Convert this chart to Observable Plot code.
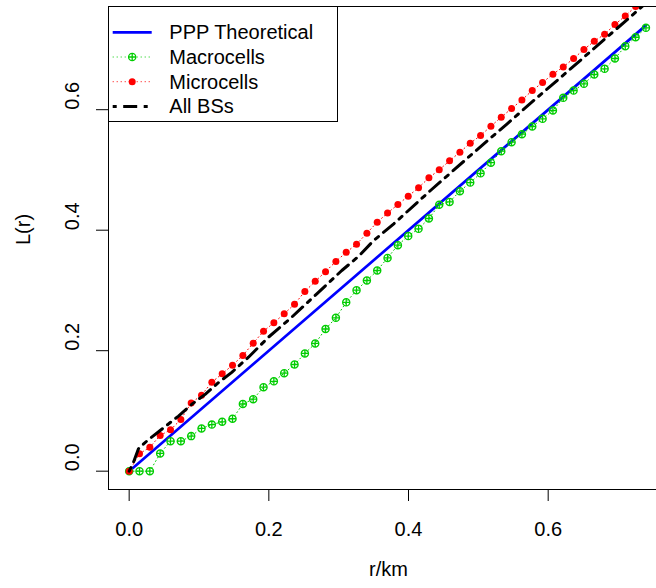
<!DOCTYPE html>
<html><head><meta charset="utf-8">
<script src="https://cdn.jsdelivr.net/npm/d3@7"></script>
<script src="https://cdn.jsdelivr.net/npm/@observablehq/plot@0.6"></script>
<style>
html,body{margin:0;padding:0;background:#fff;overflow:hidden;width:656px;height:588px}
#chart{position:relative;width:668px;height:588px}
#chart svg{max-width:none !important;display:block}
</style></head><body><div id="chart"></div>
<script>
// ---- data ----
const r = [0.0000,0.0148,0.0296,0.0444,0.0592,0.0740,0.0888,0.1036,0.1184,0.1332,
  0.1480,0.1628,0.1776,0.1924,0.2072,0.2220,0.2368,0.2516,0.2664,0.2812,
  0.2960,0.3108,0.3256,0.3404,0.3552,0.3700,0.3848,0.3996,0.4144,0.4292,
  0.4440,0.4588,0.4736,0.4884,0.5032,0.5180,0.5328,0.5476,0.5624,0.5772,
  0.5920,0.6068,0.6216,0.6364,0.6512,0.6660,0.6808,0.6956,0.7104,0.7252,0.7400];
const macro = [0,0,0,0.0294,0.0498,0.0498,0.0582,0.0709,0.0773,0.0820,
  0.0870,0.1115,0.1195,0.1394,0.1492,0.1627,0.1771,0.1954,0.2120,0.2360,
  0.2546,0.2803,0.3005,0.3165,0.3331,0.3540,0.3752,0.3903,0.4023,0.4194,
  0.4422,0.4470,0.4648,0.4790,0.4944,0.5121,0.5311,0.5461,0.5593,0.5721,
  0.5849,0.5987,0.6197,0.6318,0.6430,0.6584,0.6679,0.6850,0.7054,0.7203,0.7359];
const micro = [0,0.0289,0.0398,0.0593,0.0687,0.0858,0.1132,0.1262,0.1477,0.1617,
  0.1760,0.1922,0.2124,0.2322,0.2465,0.2612,0.2772,0.2983,0.3151,0.3312,
  0.3482,0.3632,0.3768,0.3950,0.4133,0.4285,0.4427,0.4565,0.4704,0.4870,
  0.5002,0.5152,0.5295,0.5444,0.5572,0.5726,0.5876,0.6020,0.6161,0.6319,
  0.6451,0.6590,0.6710,0.6850,0.6999,0.7137,0.7253,0.7414,0.7556,0.7713,0.7860];
const allR = [0,0.0062,0.0133,0.0252,0.0444,0.0706,0.0896,0.1088,0.1279,0.1469,
  0.1708,0.1995,0.2328,0.2687,0.3045,0.3284,0.3498,0.3789,0.4315,0.5078,
  0.5413,0.5794,0.6176,0.6462,0.6797,0.7132,0.7400];
const allL = [0,0.0149,0.0372,0.0500,0.0675,0.0915,0.1110,0.1275,0.1470,0.1640,
  0.1892,0.2224,0.2556,0.2944,0.3331,0.3565,0.3825,0.4106,0.4659,0.5434,
  0.5766,0.6153,0.6533,0.6820,0.7160,0.7495,0.7770];
const pppR = [0, 0.74];
const pppL = [0, 0.74];
const xTicks = [0, 0.2, 0.4, 0.6];
const yTicks = [0, 0.2, 0.4, 0.6];
const seriesNames = ["PPP Theoretical", "Macrocells", "Microcells", "All BSs"];
const xLabel = "r/km";
const yLabel = "L(r)";

// ---- styles ----
const BLUE = "#0000FF", GREEN = "#00CD00", RED = "#FF0000", BLACK = "#000000";
const FONT = "'Liberation Sans', Arial, Helvetica, sans-serif";
const DASHDOT = "4,6.5,14,6.5";

const macroData = r.map((v, i) => ({r: v, L: macro[i]}));
const microData = r.map((v, i) => ({r: v, L: micro[i]}));
const allData = allR.map((v, i) => ({r: v, L: allL[i]}));
const pppData = pppR.map((v, i) => ({r: v, L: pppL[i]}));

const circlePlus = {
  draw(ctx, size) {
    const rr = Math.sqrt(size / Math.PI);
    ctx.moveTo(rr, 0); ctx.arc(0, 0, rr, 0, 2 * Math.PI);
    ctx.moveTo(-rr, 0); ctx.lineTo(rr, 0);
    ctx.moveTo(0, -rr); ctx.lineTo(0, rr);
  }
};
const fmt = d3.format(".1f");

const chart = Plot.plot({
  width: 668, height: 588,
  marginLeft: 108, marginTop: 6, marginBottom: 99, marginRight: 0,
  x: {domain: [-0.0296, 0.7723]},
  y: {domain: [-0.0304, 0.7713]},
  style: {fontFamily: FONT, fontSize: "20px", background: "#fff", color: "#000", maxWidth: "none"},
  marks: [
    Plot.line(pppData, {x: "r", y: "L", stroke: BLUE, strokeWidth: 2.7, clip: true}),
    Plot.line(macroData, {x: "r", y: "L", stroke: GREEN, strokeWidth: 1, strokeDasharray: "1,3", clip: true}),
    Plot.dot(macroData, {x: "r", y: "L", r: 3.6, symbol: circlePlus, stroke: GREEN, strokeWidth: 1.3, fill: "none", clip: true}),
    Plot.line(microData, {x: "r", y: "L", stroke: RED, strokeWidth: 1, strokeDasharray: "1,3", clip: true}),
    Plot.dot(microData, {x: "r", y: "L", r: 3.5, fill: RED, clip: true}),
    Plot.line(allData, {x: "r", y: "L", stroke: BLACK, strokeWidth: 3, strokeDasharray: DASHDOT, clip: true}),
    Plot.frame({stroke: "#000", strokeWidth: 1}),
    Plot.axisX({ticks: xTicks, tickSize: 12, tickPadding: 20, tickFormat: fmt, fontSize: 20, label: null}),
    Plot.axisY({ticks: yTicks, tickSize: 12, tickFormat: () => "", label: null}),
    Plot.text(yTicks, {y: d => d, frameAnchor: "left", dx: -36.3, rotate: -90, text: d => fmt(d), fontSize: 20}),
    Plot.text([xLabel], {frameAnchor: "bottom", dy: 86, text: d => d, fontSize: 20}),
    Plot.text([yLabel], {frameAnchor: "left", dx: -85, dy: -3, rotate: -90, text: d => d, fontSize: 20})
  ]
});
chart.style.maxWidth = "none";
document.getElementById("chart").appendChild(chart);

// ---- legend (inside the plot box, top-left) ----
const legendItems = [
  {name: seriesNames[0], line: BLUE, lw: 2.7, dash: null, sym: null},
  {name: seriesNames[1], line: GREEN, lw: 1, dash: "1,3", sym: "plus"},
  {name: seriesNames[2], line: RED, lw: 1, dash: "1,3", sym: "dot"},
  {name: seriesNames[3], line: BLACK, lw: 3, dash: DASHDOT, sym: null}
];
const svg = d3.select(chart);
const lg = svg.append("g").attr("font-family", FONT).attr("font-size", 20).attr("text-anchor", "start");
lg.append("rect").attr("x", 108.5).attr("y", 6.5).attr("width", 229).attr("height", 115)
  .attr("fill", "#fff").attr("stroke", "#000").attr("stroke-width", 1);
legendItems.forEach((it, i) => {
  const y = 32.3 + i * 24.7;
  lg.append("line").attr("x1", 112.7).attr("x2", 151.7).attr("y1", y).attr("y2", y)
    .attr("stroke", it.line).attr("stroke-width", it.lw)
    .attr("stroke-dasharray", it.dash);
  if (it.sym === "plus") {
    lg.append("circle").attr("cx", 132.2).attr("cy", y).attr("r", 3.6)
      .attr("fill", "#fff").attr("stroke", GREEN).attr("stroke-width", 1.3);
    lg.append("path").attr("d", `M${132.2-3.6},${y}H${132.2+3.6}M132.2,${y-3.6}V${y+3.6}`)
      .attr("stroke", GREEN).attr("stroke-width", 1.3);
  } else if (it.sym === "dot") {
    lg.append("circle").attr("cx", 132.2).attr("cy", y).attr("r", 3.5).attr("fill", RED);
  }
  lg.append("text").attr("x", 169.3).attr("y", y).attr("dy", "0.35em")
    .attr("text-anchor", "start").attr("fill", "#000").text(it.name);
});
</script></body></html>
